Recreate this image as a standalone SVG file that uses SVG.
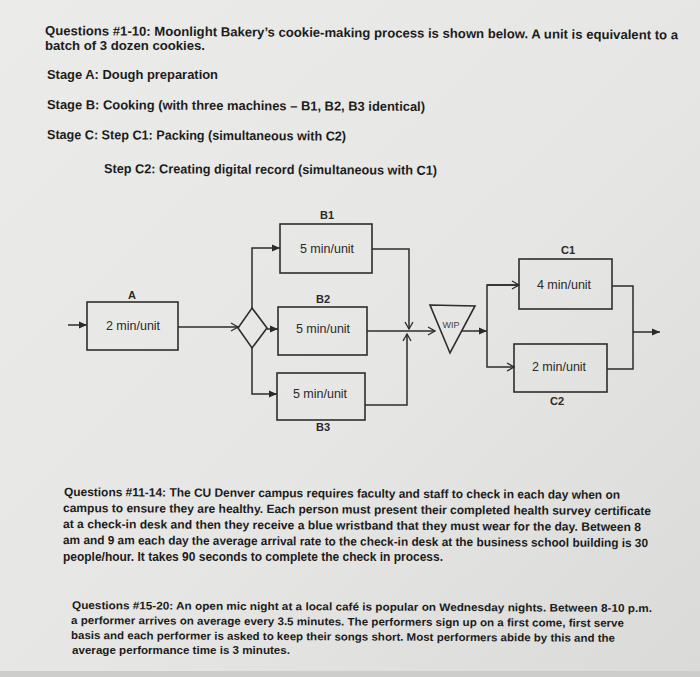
<svg xmlns="http://www.w3.org/2000/svg" width="700" height="677" viewBox="0 0 700 677">
<defs>
<linearGradient id="paper" x1="0" y1="0" x2="1" y2="1">
<stop offset="0" stop-color="#ebebe9"/>
<stop offset="0.55" stop-color="#e6e6e4"/>
<stop offset="1" stop-color="#dadad8"/>
</linearGradient>
<marker id="fill" markerWidth="9" markerHeight="8" refX="8" refY="4" orient="auto" markerUnits="userSpaceOnUse">
<path d="M0,0.5 L8,4 L0,7.5 z" fill="#2a2a2a"/>
</marker>
<marker id="open" markerWidth="10" markerHeight="10" refX="8" refY="5" orient="auto" markerUnits="userSpaceOnUse">
<path d="M1,1 L8,5 L1,9" fill="none" stroke="#2a2a2a" stroke-width="1.3"/>
</marker>
<style>
.t{font-family:"Liberation Sans",Arial,sans-serif;font-weight:bold;fill:#1c1c1c}
.h{font-size:13px}
.p{font-size:12px}
.q{font-size:11px}
.box{fill:none;stroke:#2d2d2d;stroke-width:1.6}
.lbl{font-family:"Liberation Sans",Arial,sans-serif;font-size:12.5px;fill:#2a2a2a;text-anchor:middle}
.nm{font-family:"Liberation Sans",Arial,sans-serif;font-size:11px;font-weight:bold;fill:#2a2a2a;text-anchor:middle}
.c{fill:none;stroke:#2d2d2d;stroke-width:1.5}
</style>
</defs>
<rect width="700" height="677" fill="url(#paper)"/>
<rect y="671" width="700" height="6" fill="#cdcdcb"/>

<g id="intro">
<text class="t h" x="45" y="35" textLength="633" lengthAdjust="spacingAndGlyphs" transform="rotate(0.4 45 35)">Questions #1-10: Moonlight Bakery’s cookie-making process is shown below. A unit is equivalent to a</text>
<text class="t h" x="45" y="50" textLength="160" lengthAdjust="spacingAndGlyphs">batch of 3 dozen cookies.</text>
<text class="t h" x="47" y="79" textLength="171" lengthAdjust="spacingAndGlyphs">Stage A: Dough preparation</text>
<text class="t h" x="47" y="109" textLength="378" lengthAdjust="spacingAndGlyphs" transform="rotate(0.3 47 109)">Stage B: Cooking (with three machines – B1, B2, B3 identical)</text>
<text class="t h" x="47" y="139" textLength="299" lengthAdjust="spacingAndGlyphs" transform="rotate(0.3 47 139)">Stage C: Step C1: Packing (simultaneous with C2)</text>
<text class="t h" x="104" y="173" textLength="333" lengthAdjust="spacingAndGlyphs" transform="rotate(0.3 104 173)">Step C2: Creating digital record (simultaneous with C1)</text>
</g>

<g id="connectors">
<path class="c" d="M68,325 H87" marker-end="url(#fill)"/>
<path class="c" d="M178,327 H238" marker-end="url(#open)"/>
<path class="c" d="M252,308 V248 H280" marker-end="url(#fill)"/>
<path class="c" d="M267,329 H278" marker-end="url(#fill)"/>
<path class="c" d="M252,348 V394 H277" marker-end="url(#fill)"/>
<path class="c" d="M372,249 H409 V329" marker-end="url(#open)"/>
<path class="c" d="M367,331 H435" marker-end="url(#open)"/>
<path class="c" d="M365,405 H407 V334" marker-end="url(#open)"/>
<path class="c" d="M461,331 H487" marker-end="url(#fill)"/>
<path class="c" d="M519,285 H487 V367 H514" marker-end="url(#open)"/>
<path class="c" d="M487,285 H519" marker-end="url(#open)"/>
<path class="c" d="M612,286 H633 V369 H607"/>
<path class="c" d="M633,332 H660" marker-end="url(#fill)"/>
</g>

<g id="A">
<rect class="box" x="87" y="302" width="91" height="48"/>
<text class="nm" x="132" y="299">A</text>
<text class="lbl" x="133" y="330">2 min/unit</text>
</g>
<g id="split">
<polygon class="box" points="252,308 267,328 252,348 238,328"/>
</g>
<g id="B1">
<rect class="box" x="280" y="224" width="92" height="49"/>
<text class="nm" x="327" y="219">B1</text>
<text class="lbl" x="327" y="253">5 min/unit</text>
</g>
<g id="B2">
<rect class="box" x="278" y="307" width="89" height="48"/>
<text class="nm" x="323" y="303">B2</text>
<text class="lbl" x="323" y="333">5 min/unit</text>
</g>
<g id="B3">
<rect class="box" x="277" y="373" width="88" height="47"/>
<text class="lbl" x="320" y="398">5 min/unit</text>
<text class="nm" x="323" y="431">B3</text>
</g>
<g id="WIP">
<polygon class="box" points="430,305 475,306 450,353"/>
<text x="451" y="328" font-family="'Liberation Sans',Arial,sans-serif" font-size="9" fill="#444" text-anchor="middle">WIP</text>
</g>
<g id="C1">
<rect class="box" x="519" y="259" width="93" height="50"/>
<text class="nm" x="568" y="254">C1</text>
<text class="lbl" x="564" y="289">4 min/unit</text>
</g>
<g id="C2">
<rect class="box" x="514" y="344" width="93" height="48"/>
<text class="lbl" x="559" y="371">2 min/unit</text>
<text class="nm" x="557" y="405">C2</text>
</g>

<g id="q11">
<text class="t p" x="64" y="496" textLength="556" lengthAdjust="spacingAndGlyphs" transform="rotate(0.3 64 496)">Questions #11-14: The CU Denver campus requires faculty and staff to check in each day when on</text>
<text class="t p" x="63" y="512" textLength="588" lengthAdjust="spacingAndGlyphs" transform="rotate(0.3 63 512)">campus to ensure they are healthy. Each person must present their completed health survey certificate</text>
<text class="t p" x="63" y="528" textLength="578" lengthAdjust="spacingAndGlyphs" transform="rotate(0.3 63 528)">at a check-in desk and then they receive a blue wristband that they must wear for the day. Between 8</text>
<text class="t p" x="63" y="544" textLength="585" lengthAdjust="spacingAndGlyphs" transform="rotate(0.3 63 544)">am and 9 am each day the average arrival rate to the check-in desk at the business school building is 30</text>
<text class="t p" x="63" y="561" textLength="380" lengthAdjust="spacingAndGlyphs">people/hour. It takes 90 seconds to complete the check in process.</text>
</g>

<g id="q15">
<text class="t q" x="72" y="609" textLength="580" lengthAdjust="spacingAndGlyphs" transform="rotate(0.3 72 609)">Questions #15-20: An open mic night at a local café is popular on Wednesday nights. Between 8-10 p.m.</text>
<text class="t q" x="71" y="624" textLength="553" lengthAdjust="spacingAndGlyphs" transform="rotate(0.3 71 624)">a performer arrives on average every 3.5 minutes. The performers sign up on a first come, first serve</text>
<text class="t q" x="71" y="639" textLength="544" lengthAdjust="spacingAndGlyphs" transform="rotate(0.3 71 639)">basis and each performer is asked to keep their songs short. Most performers abide by this and the</text>
<text class="t q" x="72" y="654" textLength="218" lengthAdjust="spacingAndGlyphs">average performance time is 3 minutes.</text>
</g>
</svg>
